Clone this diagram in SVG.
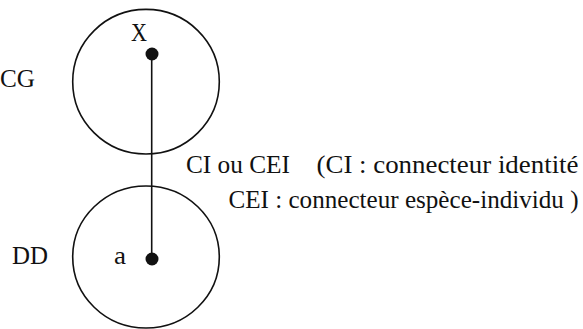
<svg xmlns="http://www.w3.org/2000/svg" width="583" height="329" viewBox="0 0 583 329">
<style>
text{fill:#111}
.c{fill:none;stroke:#111;stroke-width:1.6}
.d{fill:#111}
.l{stroke:#111;stroke-width:1.6}
</style>
<rect width="583" height="329" fill="#fff"/>
<g font-family="Liberation Serif" font-size="25">
<g id="CG">
<ellipse class="c" cx="146" cy="81.7" rx="73.3" ry="72.3"/>
<text x="0" y="87" textLength="35" lengthAdjust="spacingAndGlyphs">CG</text>
<text x="131" y="41" textLength="16" lengthAdjust="spacingAndGlyphs">X</text>
<circle class="d" cx="152" cy="54" r="6.5"/>
</g>
<g id="DD">
<ellipse class="c" cx="146" cy="257" rx="73.3" ry="71"/>
<text x="12" y="264" textLength="36" lengthAdjust="spacingAndGlyphs">DD</text>
<text x="114" y="263.5" textLength="12" lengthAdjust="spacingAndGlyphs">a</text>
<circle class="d" cx="152" cy="259" r="6.5"/>
</g>
<g id="connectors">
<line class="l" x1="151.7" y1="54" x2="151.7" y2="259"/>
</g>
<g id="legend">
<text x="186" y="173" textLength="104" lengthAdjust="spacingAndGlyphs">CI ou CEI</text>
<text x="316.5" y="173" textLength="262" lengthAdjust="spacingAndGlyphs">(CI : connecteur identité</text>
<text x="228.5" y="208" textLength="350" lengthAdjust="spacingAndGlyphs">CEI : connecteur espèce-individu )</text>
</g>
</g>
</svg>
